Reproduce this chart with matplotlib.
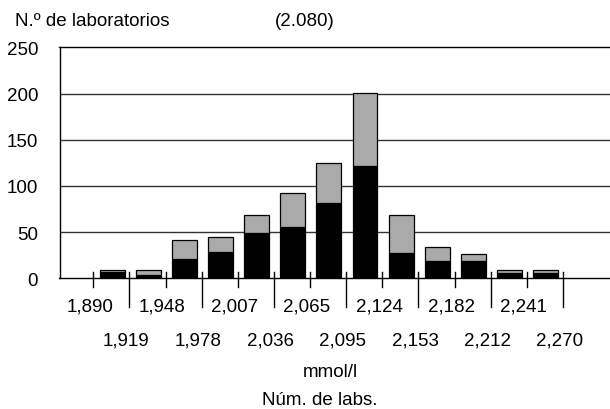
import matplotlib
matplotlib.use("Agg")
import matplotlib.pyplot as plt
import numpy as np
from matplotlib.transforms import blended_transform_factory

plt.rcParams['font.family'] = ['Liberation Sans', 'DejaVu Sans']
plt.rcParams['font.size'] = 13.5

# clases (limites en mmol/l)
edges = ['1,890', '1,919', '1,948', '1,978', '2,007', '2,036', '2,065',
         '2,095', '2,124', '2,153', '2,182', '2,212', '2,241', '2,270']
# numero de laboratorios por clase
black_vals = [7, 4, 21, 29, 49, 55, 82, 121, 27, 19, 19, 6, 6]
gray_vals = [2, 5, 20, 16, 19, 37, 43, 80, 41, 15, 7, 3, 3]
yticks = [0, 50, 100, 150, 200, 250]

W, H = 610, 410
fig = plt.figure(figsize=(W / 100, H / 100), dpi=100)
ax = fig.add_axes([59.5 / W, 1 - 279.3 / H, 1 - 59.5 / W, (279.3 - 48.3) / H])

x = np.arange(len(black_vals)) + 0.52
ax.bar(x, black_vals, width=0.69, color='black', edgecolor='black', linewidth=0.9, zorder=3)
ax.bar(x, gray_vals, bottom=black_vals, width=0.69, color='#aaaaaa',
       edgecolor='black', linewidth=0.9, zorder=3)

ax.set_xlim(-0.935, 14.30)
ax.set_ylim(0, 250)
ax.set_axisbelow(True)
for v in yticks[1:-1]:
    ax.axhline(v, color='#333333', lw=1.0, zorder=1)

ax.spines['right'].set_visible(False)
for s in ['left', 'top', 'bottom']:
    ax.spines[s].set_linewidth(1.0)
    ax.spines[s].set_color('black')

ax.set_yticks(yticks)
ax.tick_params(axis='y', length=0, pad=15.3)
ax.set_xticks([])

# marcas del eje x
ah = 231.0
tx = ax.get_xaxis_transform()
for i in range(len(edges)):
    low = -9 / ah if i % 2 == 0 else -28.7 / ah
    ax.plot([i, i], [6 / ah, low], color='black', lw=1.0, transform=tx, clip_on=False, zorder=4)

# etiquetas en dos filas
lt = blended_transform_factory(ax.transData, fig.transFigure)
for i, lab in enumerate(edges):
    yb = 311.5 if i % 2 == 0 else 345.5
    ax.text(i - 0.09, 1 - yb / H, lab, transform=lt, ha='center', va='baseline')

fig.text(15 / W, 1 - 26.5 / H, 'N.º de laboratorios', ha='left', va='baseline')
fig.text(305 / W, 1 - 26.5 / H, '(2.080)', ha='center', va='baseline')
fig.text(330 / W, 1 - 377 / H, 'mmol/l', ha='center', va='baseline')
fig.text(320 / W, 1 - 405.5 / H, 'Núm. de labs.', ha='center', va='baseline')

fig.savefig('out.png', dpi=100)
